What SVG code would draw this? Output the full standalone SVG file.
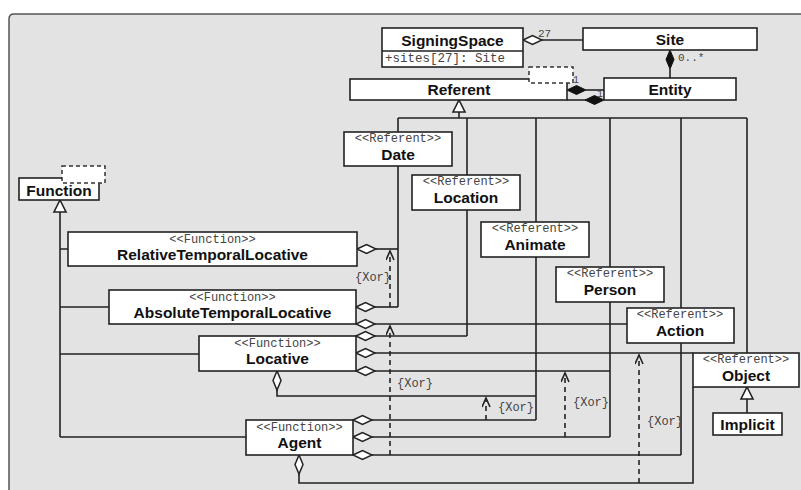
<svg xmlns="http://www.w3.org/2000/svg" width="801" height="490" viewBox="0 0 801 490">
<style>
.box{fill:#fff;stroke:#222;stroke-width:1.6}
.dash{fill:#fff;stroke:#333;stroke-width:1.5;stroke-dasharray:4 3}
.ln{fill:none;stroke:#222;stroke-width:1.6}
.dl{fill:none;stroke:#222;stroke-width:1.6;stroke-dasharray:5 4}
.agg{fill:#fff;stroke:#222;stroke-width:1.5}
.comp{fill:#111;stroke:#111;stroke-width:1}
.gen{fill:#fff;stroke:#222;stroke-width:1.6}
.nm{font-family:"Liberation Sans",Arial,sans-serif;font-weight:bold;font-size:15.5px;fill:#111;text-anchor:middle}
.st{font-family:"Liberation Mono","Courier New",monospace;font-size:12px;fill:#444;text-anchor:middle}
.lb{font-family:"Liberation Mono","Courier New",monospace;font-size:12px;fill:#444}
.sm{font-family:"Liberation Mono","Courier New",monospace;font-size:11px;fill:#444}
</style>
<defs>
<path id="dh" d="M0,0 L9.5,-4.5 L19,0 L9.5,4.5 Z"/>
<path id="dv" d="M0,0 L-4,9.5 L0,19 L4,9.5 Z"/>
<path id="tri" d="M0,0 L6,12 L-6,12 Z"/>
<marker id="open" markerWidth="12" markerHeight="10" refX="10" refY="4" orient="auto" markerUnits="userSpaceOnUse">
<path d="M1,0 L10,4 L1,8" fill="none" stroke="#222" stroke-width="1.6"/>
</marker>
</defs>
<rect x="0" y="0" width="801" height="490" fill="#fff"/>
<path d="M9,490 V19 Q9,14 14,14 H801 V490 Z" fill="#e3e3e3"/>
<path d="M9,490 V19 Q9,14 14,14 H801" fill="none" stroke="#555" stroke-width="1.5"/>

<g id="connectors">
<!-- SigningSpace - Site -->
<use href="#dh" x="523" y="40" class="agg"/>
<path class="ln" d="M542,40 H583"/>
<text class="sm" x="538" y="37">27</text>
<!-- Site - Entity -->
<use href="#dv" x="670" y="50" class="comp"/>
<path class="ln" d="M670,69 V78"/>
<text class="sm" x="678" y="61">0..*</text>
<!-- Referent - Entity -->
<use href="#dh" x="567" y="90" class="comp"/>
<path class="ln" d="M586,90 H604"/>
<path class="ln" d="M567,100 H586"/>
<use href="#dh" x="585" y="100" class="comp"/>
<text class="sm" x="573" y="83" style="font-size:10px">1</text>
<text class="sm" x="597" y="97" style="font-size:10px">1</text>
<!-- Referent generalization -->
<use href="#tri" x="459" y="100" class="gen"/>
<path class="ln" d="M459,112 V118 M398,118 H747"/>
<path class="ln" d="M398,118 V132 M398,166 V307"/>
<path class="ln" d="M467,118 V175 M467,210 V336"/>
<path class="ln" d="M536,118 V222 M536,257 V420"/>
<path class="ln" d="M610,118 V267 M610,302 V437"/>
<path class="ln" d="M681,118 V308 M681,343 V455"/>
<path class="ln" d="M747,118 V353"/>
<!-- Object - Implicit -->
<use href="#tri" x="747" y="387" class="gen"/>
<path class="ln" d="M747,399 V413"/>
<!-- Function generalization -->
<use href="#tri" x="60" y="200" class="gen"/>
<path class="ln" d="M60,212 V437 M60,249 H68 M60,307 H109 M60,354 H199 M60,437 H246"/>
<!-- Aggregations -->
<path class="ln" d="M376,249 H398"/>
<path class="ln" d="M375,307 H398"/>
<path class="ln" d="M375,324 H627"/>
<path class="ln" d="M375,336 H467"/>
<path class="ln" d="M375,353 H693"/>
<path class="ln" d="M375,371 H610"/>
<path class="ln" d="M277,390 V396 H536"/>
<path class="ln" d="M372,420 H536"/>
<path class="ln" d="M372,437 H610"/>
<path class="ln" d="M372,455 H681"/>
<path class="ln" d="M299,474 V483 H693 V387"/>
<use href="#dh" x="357" y="249" class="agg"/>
<use href="#dh" x="356" y="307" class="agg"/>
<use href="#dh" x="356" y="324" class="agg"/>
<use href="#dh" x="356" y="336" class="agg"/>
<use href="#dh" x="356" y="353" class="agg"/>
<use href="#dh" x="356" y="371" class="agg"/>
<use href="#dv" x="277" y="371" class="agg"/>
<use href="#dh" x="353" y="420" class="agg"/>
<use href="#dh" x="353" y="437" class="agg"/>
<use href="#dh" x="353" y="455" class="agg"/>
<use href="#dv" x="299" y="455" class="agg"/>
<!-- Xor constraints -->
<path class="dl" d="M390,307 V251" marker-end="url(#open)"/>
<path class="dl" d="M390,455 V326" marker-end="url(#open)"/>
<path class="dl" d="M486,420 V398" marker-end="url(#open)"/>
<path class="dl" d="M565,437 V373" marker-end="url(#open)"/>
<path class="dl" d="M639,483 V355" marker-end="url(#open)"/>
<text class="lb" x="355" y="281">{Xor}</text>
<text class="lb" x="397" y="387">{Xor}</text>
<text class="lb" x="498" y="411">{Xor}</text>
<text class="lb" x="573" y="406">{Xor}</text>
<text class="lb" x="647" y="425">{Xor}</text>
</g>

<g id="SigningSpace">
<rect class="box" x="382" y="28" width="141" height="39"/>
<path class="ln" d="M382,51 H523"/>
<text class="nm" x="452.5" y="45.5">SigningSpace</text>
<text class="lb" x="385" y="62" style="font-size:12.5px">+sites[27]: Site</text>
</g>
<g id="Site">
<rect class="box" x="583" y="28" width="174" height="22"/>
<text class="nm" x="670" y="45">Site</text>
</g>
<g id="Referent">
<rect class="box" x="350" y="79" width="217" height="21"/>
<rect class="dash" x="529" y="67" width="44" height="16"/>
<text class="nm" x="459" y="95">Referent</text>
</g>
<g id="Entity">
<rect class="box" x="604" y="78" width="132" height="22"/>
<text class="nm" x="670" y="95">Entity</text>
</g>
<g id="Date">
<rect class="box" x="344" y="132" width="108" height="34"/>
<text class="st" x="398" y="142">&lt;&lt;Referent&gt;&gt;</text>
<text class="nm" x="398" y="159.5">Date</text>
</g>
<g id="Location">
<rect class="box" x="412" y="175" width="108" height="35"/>
<text class="st" x="466" y="185">&lt;&lt;Referent&gt;&gt;</text>
<text class="nm" x="466" y="202.5">Location</text>
</g>
<g id="Animate">
<rect class="box" x="481" y="222" width="108" height="35"/>
<text class="st" x="535" y="232">&lt;&lt;Referent&gt;&gt;</text>
<text class="nm" x="535" y="249.5">Animate</text>
</g>
<g id="Person">
<rect class="box" x="556" y="267" width="108" height="35"/>
<text class="st" x="610" y="277">&lt;&lt;Referent&gt;&gt;</text>
<text class="nm" x="610" y="294.5">Person</text>
</g>
<g id="Action">
<rect class="box" x="627" y="308" width="107" height="35"/>
<text class="st" x="680" y="318">&lt;&lt;Referent&gt;&gt;</text>
<text class="nm" x="680" y="335.5">Action</text>
</g>
<g id="Object">
<rect class="box" x="693" y="353" width="106" height="34"/>
<text class="st" x="746" y="363">&lt;&lt;Referent&gt;&gt;</text>
<text class="nm" x="746" y="380.5">Object</text>
</g>
<g id="Implicit">
<rect class="box" x="713" y="413" width="69" height="22"/>
<text class="nm" x="747.5" y="430">Implicit</text>
</g>
<g id="Function">
<rect class="box" x="19" y="178" width="80" height="22"/>
<rect class="dash" x="62" y="166" width="43" height="17"/>
<text class="nm" x="59" y="196">Function</text>
</g>
<g id="RelativeTemporalLocative">
<rect class="box" x="68" y="232" width="289" height="34"/>
<text class="st" x="212.5" y="242.5">&lt;&lt;Function&gt;&gt;</text>
<text class="nm" x="212.5" y="260">RelativeTemporalLocative</text>
</g>
<g id="AbsoluteTemporalLocative">
<rect class="box" x="109" y="290" width="247" height="34"/>
<text class="st" x="232.5" y="300.5">&lt;&lt;Function&gt;&gt;</text>
<text class="nm" x="232.5" y="318">AbsoluteTemporalLocative</text>
</g>
<g id="Locative">
<rect class="box" x="199" y="336" width="157" height="35"/>
<text class="st" x="277.5" y="346.5">&lt;&lt;Function&gt;&gt;</text>
<text class="nm" x="277.5" y="364">Locative</text>
</g>
<g id="Agent">
<rect class="box" x="246" y="420" width="107" height="35"/>
<text class="st" x="299.5" y="430.5">&lt;&lt;Function&gt;&gt;</text>
<text class="nm" x="299.5" y="448">Agent</text>
</g>
</svg>
